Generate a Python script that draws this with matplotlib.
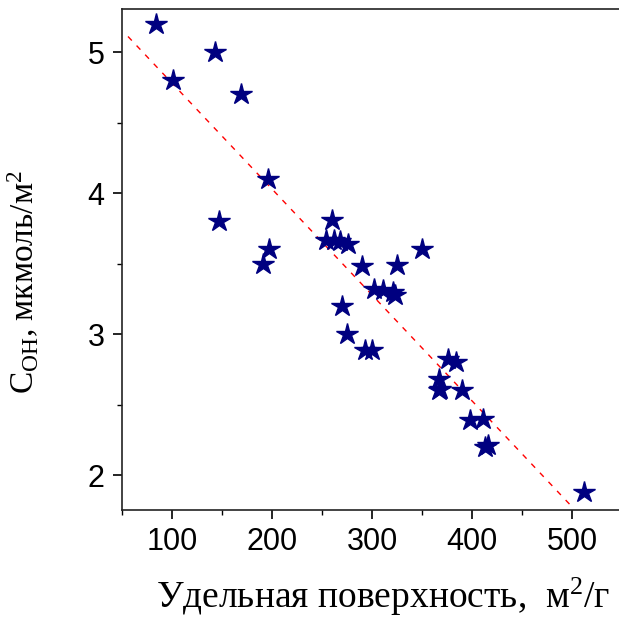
import matplotlib
matplotlib.use("Agg")
import matplotlib.pyplot as plt
from matplotlib.ticker import MultipleLocator

plt.rcParams['mathtext.fontset'] = 'custom'
plt.rcParams['mathtext.rm'] = 'Liberation Serif'
plt.rcParams['mathtext.it'] = 'Liberation Serif:italic'
plt.rcParams['mathtext.bf'] = 'Liberation Serif:bold'

# Data
surface = [84, 101, 143, 169, 196, 147, 197, 191,
           260, 254, 262, 268, 276, 290, 325, 350,
           302, 311, 321, 323,
           270, 275, 293, 300,
           376, 384, 367, 367, 368, 390,
           398, 411, 413, 416, 512]
c_oh = [5.20, 4.80, 5.00, 4.70, 4.10, 3.80, 3.60, 3.50,
        3.81, 3.67, 3.67, 3.66, 3.64, 3.48, 3.49, 3.60,
        3.32, 3.31, 3.30, 3.28,
        3.20, 3.00, 2.89, 2.89,
        2.82, 2.80, 2.68, 2.60, 2.61, 2.60,
        2.39, 2.40, 2.20, 2.21, 1.88]

# linear fit line
fit_x = [56, 498]
fit_y = [5.11, 1.79]

xticks = [100, 200, 300, 400, 500]
yticks = [2, 3, 4, 5]

fig = plt.figure(figsize=(6.19, 6.22), dpi=100)
ax = fig.add_axes([122/619, 1 - 510/622, 1 - 122/619, (510 - 9)/622])

ax.plot(fit_x, fit_y, color='red', linestyle=(0, (4, 5)), linewidth=1.0, zorder=1)
ax.plot(surface, c_oh, linestyle='none', marker='*', markersize=16,
        color='#000080', markeredgecolor='#000080', zorder=2)

ax.set_xlim(50, 547)
ax.set_ylim(1.752, 5.305)
ax.set_xticks(xticks)
ax.set_yticks(yticks)
ax.xaxis.set_minor_locator(MultipleLocator(50))
ax.yaxis.set_minor_locator(MultipleLocator(0.5))
ax.spines['right'].set_visible(False)
for s in ['left', 'bottom', 'top']:
    ax.spines[s].set_linewidth(1.2)
    ax.spines[s].set_color('#222222')

ax.tick_params(axis='both', which='major', direction='out', length=6.5, width=1.2,
               labelsize=22, pad=6)
ax.tick_params(axis='both', which='minor', direction='out', length=3.5, width=1.0)
ax.tick_params(axis='x', which='both', top=False)
for lab in ax.get_xticklabels() + ax.get_yticklabels():
    lab.set_family(['Liberation Sans', 'DejaVu Sans'])

serif = ['Liberation Serif', 'DejaVu Serif']
fig.text(383/619, 1 - 608/622, 'Удельная поверхность,  м$^2$/г', family=serif,
         fontsize=27, ha='center', va='baseline')
fig.text(34/619, 1 - 282/622, 'C$_{\\mathregular{OH}}$, мкмоль/м$^2$', family=serif,
         fontsize=24, rotation=90, rotation_mode='anchor', ha='center', va='baseline')

fig.savefig('out.png', dpi=100)
